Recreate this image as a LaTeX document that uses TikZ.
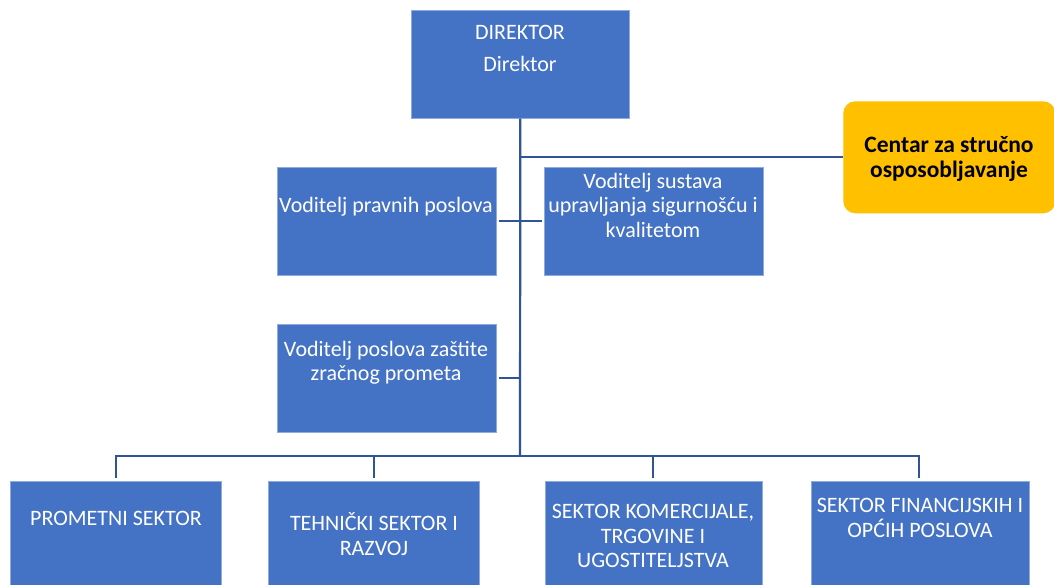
\documentclass[tikz,border=0pt]{standalone}
\usepackage{fontspec}
\setmainfont{Carlito}
\definecolor{boxblue}{HTML}{4472C4}
\definecolor{boxedge}{HTML}{8FAADC}
\definecolor{linkblue}{HTML}{2F5597}
\definecolor{gold}{HTML}{FFC000}
\begin{document}
\begin{tikzpicture}[x=1pt,y=-1pt,
  box/.style={draw=boxedge, line width=0.6pt, fill=boxblue, anchor=north west, inner sep=0pt},
  txt/.style={text=white, align=center, font=\fontsize{22}{24.5}\selectfont, inner sep=0pt},
  link/.style={draw=linkblue, line width=2.2pt}]
\useasboundingbox (0,0) rectangle (1054,585);
\clip (0,0) rectangle (1054,585);
\fill[white] (0,0) rectangle (1054,585);
% boxes
\node[box, minimum width=218pt, minimum height=108pt] (dir) at (411,10) {};
\node[box, minimum width=219pt, minimum height=108pt] (vp) at (277,167) {};
\node[box, minimum width=219pt, minimum height=108pt] (vs) at (544,167) {};
\node[box, minimum width=219pt, minimum height=108pt] (vz) at (277,324) {};
\node[box, draw=none, fill=gold, rounded corners=12pt, minimum width=212pt, minimum height=112pt] (cen) at (843,101) {};
\node[box, minimum width=211pt, minimum height=120pt] (s1) at (10,481) {};
\node[box, minimum width=211pt, minimum height=120pt] (s2) at (268,481) {};
\node[box, minimum width=217pt, minimum height=120pt] (s3) at (545,481) {};
\node[box, minimum width=218pt, minimum height=120pt] (s4) at (811,481) {};
% texts
\node[txt] (t1) at (520,32) {DIREKTOR};
\node[txt] (t2) at (520,64) {Direktor};
\node[txt] (t3) at (386,207) {Voditelj pravnih poslova};
\node[txt] (t4) at (653,205) {Voditelj sustava\\upravljanja sigurnošću i\\kvalitetom};
\node[txt] (t5) at (386,363) {Voditelj poslova zaštite\\zračnog prometa};
\node[txt, text=black, font=\fontsize{23.5}{25}\selectfont\bfseries] (t6) at (949,159) {Centar za stručno\\osposobljavanje};
\node[txt] (t7) at (116,518) {PROMETNI SEKTOR};
\node[txt] (t8) at (374,534) {TEHNIČKI SEKTOR I\\RAZVOJ};
\node[txt] (t9) at (653,536) {SEKTOR KOMERCIJALE,\\TRGOVINE I\\UGOSTITELJSTVA};
\node[txt] (t10) at (920,518) {SEKTOR FINANCIJSKIH I\\OPĆIH POSLOVA};
% connectors
\coordinate (bus) at (520,456);
\coordinate (b1) at (116,456);
\coordinate (b2) at (374,456);
\coordinate (b3) at (653,456);
\coordinate (b4) at (919,456);
\draw[link] (dir.south) -- (bus);
\draw[link] (dir.south |- cen.west) -- (cen.west);
\draw[link] ([xshift=2pt]vp.east) -- ([xshift=-2pt]vs.west);
\draw[link] ([xshift=2pt]vz.east) -- (dir.south |- vz.east);
\draw[link] (s1.north -| b1) ++(0,-3) -- (b1) -- (b4) -- ++(0,22);
\draw[link] (b2) -- ++(0,22);
\draw[link] (b3) -- ++(0,22);
\end{tikzpicture}
\end{document}
